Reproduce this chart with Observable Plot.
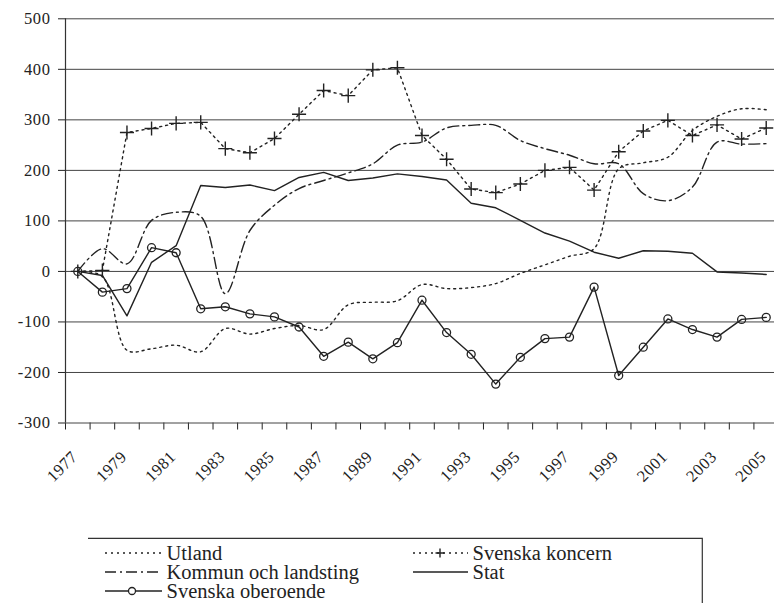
<!DOCTYPE html>
<html>
<head>
<meta charset="utf-8">
<script src="https://cdn.jsdelivr.net/npm/d3@7"></script>
<script src="https://cdn.jsdelivr.net/npm/@observablehq/plot@0.6"></script>
<style>
  html, body { margin: 0; padding: 0; background: #fff; }
  #legend { position: relative; width: 774px; height: 73px; overflow: hidden; }
  #legend .lab { position: absolute; font-family: "Liberation Serif", "Times New Roman", serif; font-size: 20.5px; line-height: 1; color: #222; white-space: nowrap; }
  #legend svg { position: absolute; left: 0; top: 0; }
</style>
</head>
<body>
<div id="chart"></div>
<div id="legend"></div>
<script>
// ---- data ----
const years = [1977,1978,1979,1980,1981,1982,1983,1984,1985,1986,1987,1988,1989,1990,
               1991,1992,1993,1994,1995,1996,1997,1998,1999,2000,2001,2002,2003,2004,2005];
const labelYears = [1977,1979,1981,1983,1985,1987,1989,1991,1993,1995,1997,1999,2001,2003,2005];
const yTicks = [-300,-200,-100,0,100,200,300,400,500];

const utland    = [0,-10,-156,-153,-146,-159,-113,-124,-113,-107,-115,-66,-61,-58,-26,-34,-32,-24,-4,13,30,45,203,215,226,279,307,322,320];
const koncern   = [0,2,275,283,293,295,243,235,263,311,358,348,399,403,269,222,163,156,173,200,206,161,237,278,299,269,290,262,284];
const kommun    = [0,45,15,101,117,109,-44,81,131,164,180,195,213,250,256,284,289,289,259,243,230,213,213,154,140,167,256,252,253];
const stat      = [0,-8,-88,18,51,170,166,171,160,186,196,180,185,193,188,181,135,126,101,76,60,38,26,41,40,36,-1,-3,-6];
const oberoende = [0,-41,-34,47,37,-74,-70,-84,-90,-110,-168,-140,-173,-141,-57,-121,-164,-223,-170,-133,-130,-31,-206,-150,-94,-115,-130,-95,-91];

const seriesNames = ["Utland","Svenska koncern","Kommun och landsting","Stat","Svenska oberoende"];

const toRows = arr => years.map((y, i) => ({year: y, value: arr[i]}));
const boundaries = years.map(y => y - 0.5).concat([years[years.length - 1] + 0.5]);

const ink = "#222";

const chart = Plot.plot({
  width: 774,
  height: 530,
  marginLeft: 65,
  marginRight: 0,
  marginTop: 18.3,
  marginBottom: 107.5,
  style: {fontFamily: "'Liberation Serif', 'Times New Roman', serif", fontSize: "16.5px", color: ink, background: "#fff"},
  x: {domain: [1976.5, 2005.5], range: [65, 778], ticks: boundaries, tickFormat: () => "", tickSize: 7, label: null},
  y: {domain: [-300, 500], ticks: yTicks, tickSize: 7, tickPadding: 8, tickFormat: d => String(d), label: null},
  marks: [
    Plot.ruleY(yTicks, {stroke: "#444", strokeWidth: 1}),
    Plot.ruleX([1976.5], {stroke: "#333", strokeWidth: 1.2}),
    Plot.text(labelYears, {x: d => d, y: -300, text: d => String(d), rotate: -45, textAnchor: "end",
                           dx: -3, dy: 31, fill: ink, fontSize: 16.5}),
    Plot.line(toRows(utland), {x: "year", y: "value", stroke: ink, strokeWidth: 1.4, strokeDasharray: "2,4", curve: "catmull-rom"}),
    Plot.line(toRows(kommun), {x: "year", y: "value", stroke: ink, strokeWidth: 1.4, strokeDasharray: "11,4,2,4", curve: "catmull-rom"}),
    Plot.line(toRows(koncern), {x: "year", y: "value", stroke: ink, strokeWidth: 1.4, strokeDasharray: "2,4"}),
    Plot.dot(toRows(koncern), {x: "year", y: "value", symbol: "plus", r: 4.6, stroke: ink, strokeWidth: 1.4}),
    Plot.line(toRows(stat), {x: "year", y: "value", stroke: ink, strokeWidth: 1.4}),
    Plot.line(toRows(oberoende), {x: "year", y: "value", stroke: ink, strokeWidth: 1.4}),
    Plot.dot(toRows(oberoende), {x: "year", y: "value", r: 4, stroke: ink, strokeWidth: 1.3, fill: "none"})
  ]
});
d3.select(chart).selectAll("text")
  .style("font-family", "'Liberation Serif', 'Times New Roman', serif")
  .style("letter-spacing", "0.6px");
document.getElementById("chart").appendChild(chart);

// ---- legend below the chart (HTML labels + SVG samples) ----
const legendEl = document.getElementById("legend");
const lg = d3.select(legendEl).append("svg").attr("width", 774).attr("height", 73);
lg.append("path").attr("d", "M88,8.3H702.3V73").attr("fill", "none").attr("stroke", "#333").attr("stroke-width", 1.2);

const legendItems = [
  {name: seriesNames[0], x0: 105, x1: 162, tx: 166.5, ty: 30, dash: "2,4",      marker: null},
  {name: seriesNames[2], x0: 105, x1: 162, tx: 166.5, ty: 49, dash: "11,4,2,4", marker: null},
  {name: seriesNames[4], x0: 105, x1: 162, tx: 166.5, ty: 68, dash: null,       marker: "circle", mx: 132},
  {name: seriesNames[1], x0: 413, x1: 468, tx: 472.5, ty: 30, dash: "2,4",      marker: "plus", mx: 440},
  {name: seriesNames[3], x0: 413, x1: 468, tx: 472.5, ty: 49, dash: null,       marker: null}
];
legendItems.forEach(it => {
  const cy = it.ty - 7;
  lg.append("line").attr("x1", it.x0).attr("x2", it.x1).attr("y1", cy).attr("y2", cy)
    .attr("stroke", ink).attr("stroke-width", 1.4).attr("stroke-dasharray", it.dash);
  if (it.marker === "circle") {
    lg.append("circle").attr("cx", it.mx).attr("cy", cy).attr("r", 3.5)
      .attr("fill", "#fff").attr("stroke", ink).attr("stroke-width", 1.3);
  } else if (it.marker === "plus") {
    lg.append("path").attr("d", `M${it.mx - 4.5},${cy}H${it.mx + 4.5}M${it.mx},${cy - 4.5}V${cy + 4.5}`)
      .attr("stroke", ink).attr("stroke-width", 1.4);
  }
  const s = document.createElement("span");
  s.className = "lab";
  s.style.left = it.tx + "px";
  s.style.top = (it.ty - 17.3) + "px";
  s.textContent = it.name;
  legendEl.appendChild(s);
});
</script>
</body>
</html>
